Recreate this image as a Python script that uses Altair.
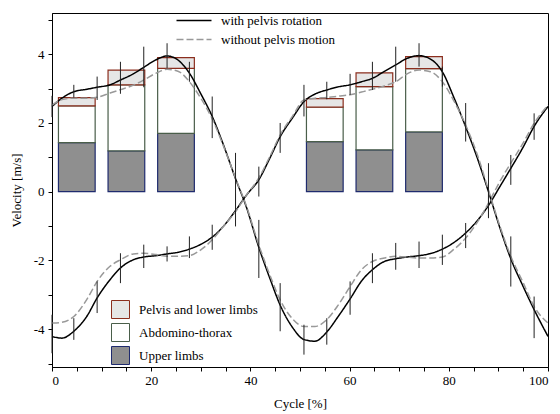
import altair as alt
import pandas as pd

# ---- curves (Cycle %, velocity m/s) ----
cycle = [0, 2, 4.4, 7, 9.1, 11.7, 13.8, 16.4, 18.5, 21, 23.2, 25.5, 27.7, 30, 32.3, 34.6,
         37, 39.2, 41.7, 44, 46, 48.5, 50.8, 53, 55.4, 57.7, 60.1, 62.4, 64.6, 67, 69.3,
         71.6, 74, 76.3, 78.7, 81, 83.4, 85.7, 88, 90.3, 92.5, 95, 97.2, 100]

c1_with = [2.48, 2.72, 2.91, 2.98, 3.04, 3.11, 3.25, 3.43, 3.62, 3.84, 3.95, 3.82, 3.45, 2.85,
           2.19, 1.35, 0.38, -0.45, -1.62, -2.55, -3.3, -3.95, -4.3, -4.35, -4.08, -3.63,
           -3.12, -2.6, -2.27, -2.03, -1.95, -1.9, -1.86, -1.8, -1.67, -1.48, -1.2, -0.85,
           -0.4, 0.15, 0.68, 1.3, 1.9, 2.48]
c1_without = [2.52, 2.68, 2.72, 2.72, 2.75, 2.87, 2.97, 3.1, 3.25, 3.45, 3.56, 3.5, 3.2, 2.72,
              2.12, 1.32, 0.4, -0.42, -1.55, -2.45, -3.15, -3.7, -3.92, -3.92, -3.72, -3.3,
              -2.76, -2.27, -2.03, -1.93, -1.88, -1.9, -1.93, -1.93, -1.9, -1.68, -1.35,
              -0.9, -0.33, 0.3, 0.83, 1.42, 1.99, 2.52]
c2_with = [-4.21, -4.26, -4.06, -3.63, -3.09, -2.56, -2.22, -1.98, -1.9, -1.86, -1.81, -1.76,
           -1.67, -1.53, -1.32, -1.0, -0.55, -0.1, 0.35, 1.0, 1.6, 2.15, 2.62, 2.84, 2.96,
           3.05, 3.11, 3.2, 3.3, 3.5, 3.69, 3.88, 3.96, 3.86, 3.49, 2.75, 1.89, 1.0, 0.0,
           -1.05, -1.95, -2.76, -3.43, -4.21]
c2_without = [-3.82, -3.8, -3.63, -3.14, -2.61, -2.17, -1.98, -1.81, -1.79, -1.83, -1.88,
              -1.88, -1.86, -1.69, -1.4, -1.0, -0.58, -0.1, 0.4, 1.05, 1.65, 2.2, 2.67, 2.72,
              2.74, 2.78, 2.82, 2.9, 2.98, 3.08, 3.2, 3.43, 3.54, 3.49, 3.2, 2.65, 1.94, 1.1,
              0.05, -1.0, -1.88, -2.65, -3.34, -3.82]

series = ["with pelvis rotation", "without pelvis motion"]

# ---- error bars ----
eb_x = [0, 4.4, 9.1, 13.8, 18.5, 23.2, 27.7, 32.3, 37.0, 41.7, 46.0, 50.8, 55.4, 60.1,
        64.6, 69.3, 74.0, 78.7, 83.4, 88.0, 92.5, 97.2]
eb1_lo = [2.17, 2.74, 2.67, 2.85, 3.04, 3.59, 3.2, 1.56, -0.47, -2.51, -4.06, -4.74, -4.45,
          -3.58, -2.66, -2.27, -2.22, -2.13, -1.64, -0.75, 0.2, 1.51]
eb1_hi = [2.79, 3.11, 3.35, 3.78, 4.22, 4.32, 3.78, 2.77, 1.13, -0.82, -2.66, -3.87, -3.68,
          -2.61, -1.79, -1.49, -1.45, -1.25, -0.91, -0.05, 1.07, 2.28]
eb2_lo = [-4.7, -4.31, -3.53, -2.66, -2.22, -2.03, -1.93, -1.69, -1.01, -0.14, 1.13, 2.19,
          2.69, 2.82, 2.96, 3.2, 3.64, 3.06, 1.46, -0.77, -2.76, -4.26]
eb2_hi = [-3.58, -3.68, -2.61, -1.79, -1.54, -1.59, -1.3, -0.96, -0.05, 0.73, 2.0, 3.11,
          3.2, 3.43, 3.78, 4.22, 4.32, 3.64, 2.58, 0.83, -1.3, -3.05]

# ---- stacked bars ----
bar_center = [5, 15, 25, 55, 65, 75]
upper_limbs = [1.43, 1.19, 1.70, 1.46, 1.22, 1.74]
abdomino = [1.07, 1.92, 1.89, 1.00, 1.84, 1.84]
pelvis = [0.24, 0.43, 0.31, 0.25, 0.40, 0.35]
segments = ["Pelvis and lower limbs", "Abdomino-thorax", "Upper limbs"]

BAR_HALF = 3.7

lines_rows = []
for cname, vals in [("c1", [c1_with, c1_without]), ("c2", [c2_with, c2_without])]:
    for s, ys in zip(series, vals):
        for x, y in zip(cycle, ys):
            lines_rows.append({"x": x, "y": y, "series": s, "curve": cname + s})
lines_df = pd.DataFrame(lines_rows)

eb_rows = []
for lo, hi in [(eb1_lo, eb1_hi), (eb2_lo, eb2_hi)]:
    for x, a, b in zip(eb_x, lo, hi):
        eb_rows.append({"x": x, "lo": a, "hi": b})
eb_df = pd.DataFrame(eb_rows)

bar_rows = []
for c, u, a, p in zip(bar_center, upper_limbs, abdomino, pelvis):
    bar_rows.append({"c": c, "seg": segments[2], "y0": 0, "y1": u})
    bar_rows.append({"c": c, "seg": segments[1], "y0": u, "y1": u + a})
    bar_rows.append({"c": c, "seg": segments[0], "y0": u + a, "y1": u + a + p})
bar_df = pd.DataFrame(bar_rows)

xscale = alt.Scale(domain=[0, 100], nice=False)
yscale = alt.Scale(domain=[-5.1, 5.2], nice=False, zero=False)

xaxis = alt.Axis(values=list(range(0, 101, 5)),
                 labelExpr="datum.value % 20 == 0 ? datum.label : ''",
                 tickSize=4, labelPadding=3, title="Cycle [%]", titlePadding=10)
yaxis = alt.Axis(values=list(range(-5, 6)),
                 labelExpr="abs(datum.value % 2) < 0.01 ? (datum.value < 0 ? '-' + abs(datum.value) : '' + datum.value) : ''",
                 tickSize=4, labelPadding=4, title="Velocity [m/s]", titlePadding=10)

line_legend = alt.Legend(title=None, orient="none", legendX=135.5, legendY=1,
                         symbolType="M-3.5,0H3.5", symbolSize=100, symbolStrokeWidth=1.3,
                         labelOffset=20.5, rowPadding=5)

lines = alt.Chart(lines_df).mark_line(strokeWidth=1.5, interpolate="monotone").encode(
    x=alt.X("x:Q", scale=xscale, axis=xaxis),
    y=alt.Y("y:Q", scale=yscale, axis=yaxis),
    detail="curve:N",
    color=alt.Color("series:N", scale=alt.Scale(domain=series, range=["#000000", "#999999"]),
                    legend=line_legend),
    strokeDash=alt.StrokeDash("series:N", scale=alt.Scale(domain=series, range=[[1, 0], [7, 3]]),
                              legend=line_legend),
)

bars = alt.Chart(bar_df).transform_calculate(
    x0=f"datum.c - {BAR_HALF}", x1=f"datum.c + {BAR_HALF}"
).mark_bar(strokeWidth=1.2).encode(
    x=alt.X("x0:Q", scale=xscale, axis=xaxis),
    x2="x1:Q",
    y=alt.Y("y0:Q", scale=yscale, axis=yaxis),
    y2="y1:Q",
    fill=alt.Fill("seg:N", scale=alt.Scale(domain=segments, range=["#e6e6e6", "#ffffff", "#8f8f8f"]),
                  legend=alt.Legend(title=None, orient="none", legendX=59, legendY=287,
                                    symbolType="square", symbolSize=324,
                                    symbolStrokeColor="#555", symbolStrokeWidth=1,
                                    rowPadding=0, labelOffset=9)),
    stroke=alt.Stroke("seg:N", scale=alt.Scale(domain=segments, range=["#8b2e1e", "#4a5e4a", "#1f2b6e"]),
                      legend=None),
)

errs = alt.Chart(eb_df).mark_rule(color="#222", strokeWidth=1).encode(
    x=alt.X("x:Q", scale=xscale, axis=xaxis),
    y=alt.Y("lo:Q", scale=yscale, axis=yaxis),
    y2="hi:Q",
)

chart = alt.layer(bars, lines, errs).properties(
    width=496, height=354,
    autosize=alt.AutoSizeParams(type="none"),
    padding={"left": 44, "top": 5, "right": 4, "bottom": 46},
).configure_view(stroke="black", strokeWidth=1).configure_axis(
    labelFont="Liberation Serif", titleFont="Liberation Serif", labelFontSize=13,
    titleFontSize=13, titleFontWeight="normal", domainColor="black", tickColor="black",
    labelColor="black", titleColor="black", grid=False
).configure_legend(labelFont="Liberation Serif", labelFontSize=13, labelColor="black")

chart.save("out.html", embed_options={"renderer": "svg", "actions": False})
